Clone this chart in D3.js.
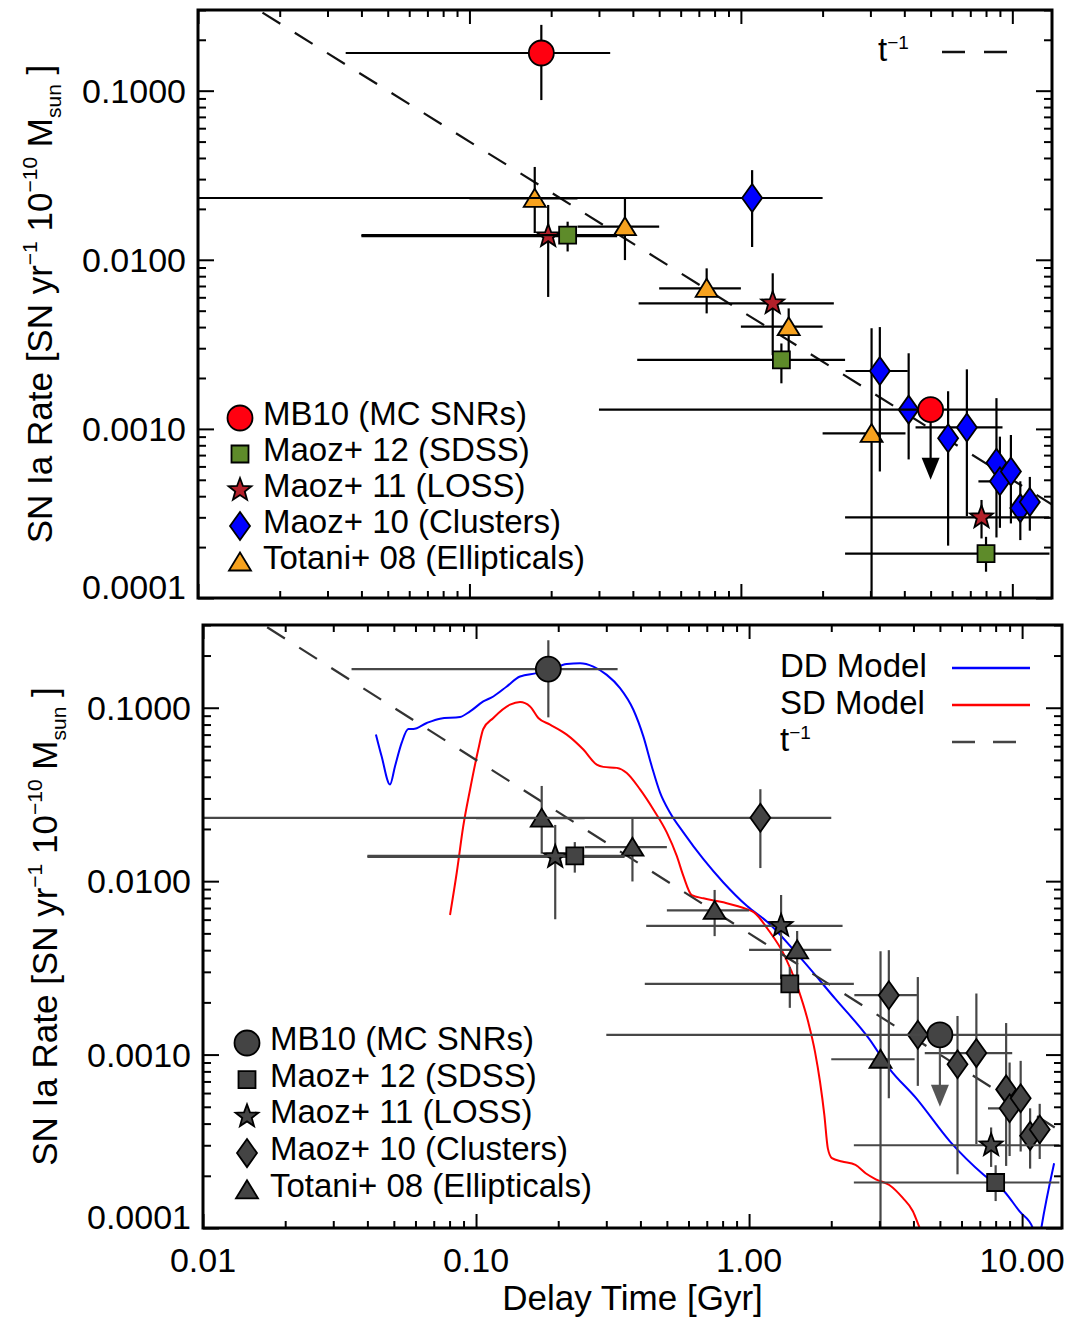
<!DOCTYPE html>
<html>
<head>
<meta charset="utf-8">
<script src="https://cdn.jsdelivr.net/npm/d3@7"></script>
<style>
body { margin: 0; background: #fff; }
text { font-family: "Liberation Sans", Arial, Helvetica, sans-serif; fill: #000; }
</style>
</head>
<body>
<svg id="chart" width="1075" height="1317"></svg>
<script>
// axis ranges (delay time in Gyr, rate in SN / yr / 1e10 Msun)
var xDomain = [0.01, 14];
var yDomain = [1e-4, 0.3];
var xTickValues = [0.01, 0.1, 1, 10];
var xTickLabels = ["0.01", "0.10", "1.00", "10.00"];
var yTickValues = [0.0001, 0.001, 0.01, 0.1];
var yTickLabels = ["0.0001", "0.0010", "0.0100", "0.1000"];

// observed rates: t, rate, time range, rate range (null = no bar)
var mb10 = [
  {t: 0.184, r: 0.167, tlo: 0.035, thi: 0.33, rlo: 0.088, rhi: 0.245},
  {t: 5.0, r: 0.0013, tlo: 0.30, thi: 20, rlo: null, rhi: null, limit: 0.0005}
];
var maoz12 = [
  {t: 0.23, r: 0.0140, tlo: 0.04, thi: 0.35, rlo: 0.0112, rhi: 0.0168},
  {t: 1.41, r: 0.00256, tlo: 0.415, thi: 2.42, rlo: 0.00186, rhi: 0.0032},
  {t: 8.0, r: 0.000183, tlo: 2.42, thi: 13.7, rlo: 0.000143, rhi: 0.00023}
];
var maoz11 = [
  {t: 0.195, r: 0.0138, tlo: 0.04, thi: 0.35, rlo: 0.00603, rhi: 0.0211},
  {t: 1.31, r: 0.00553, tlo: 0.42, thi: 2.2, rlo: 0.00273, rhi: 0.00832},
  {t: 7.7, r: 0.0003, tlo: 2.42, thi: 13.7, rlo: 0.000225, rhi: 0.00038}
];
var maoz10 = [
  {t: 1.10, r: 0.0232, tlo: 0.001, thi: 2.0, rlo: 0.0119, rhi: 0.0339},
  {t: 3.25, r: 0.0022, tlo: 2.43, thi: 4.12, rlo: 0.00056, rhi: 0.0040},
  {t: 4.15, r: 0.0013, tlo: null, thi: null, rlo: 0.00066, rhi: 0.0028},
  {t: 5.8, r: 0.00088, tlo: null, thi: null, rlo: 0.000204, rhi: 0.00167},
  {t: 6.8, r: 0.00102, tlo: 4.4, thi: 9.2, rlo: 0.000305, rhi: 0.00225},
  {t: 8.74, r: 0.00063, tlo: null, thi: null, rlo: 0.000228, rhi: 0.00152},
  {t: 9.0, r: 0.00049, tlo: 7.5, thi: 9.9, rlo: 0.00026, rhi: 0.0009},
  {t: 9.88, r: 0.00056, tlo: null, thi: null, rlo: 0.000276, rhi: 0.00092},
  {t: 10.7, r: 0.00034, tlo: null, thi: null, rlo: 0.00022, rhi: 0.00049},
  {t: 11.6, r: 0.00037, tlo: null, thi: null, rlo: 0.00025, rhi: 0.00052}
];
var totani08 = [
  {t: 0.174, r: 0.0231, tlo: 0.1, thi: 0.25, rlo: 0.0144, rhi: 0.0354},
  {t: 0.374, r: 0.0157, tlo: 0.25, thi: 0.5, rlo: 0.00996, rhi: 0.0231},
  {t: 0.748, r: 0.00678, tlo: 0.5, thi: 1.0, rlo: 0.00482, rhi: 0.0089},
  {t: 1.50, r: 0.00402, tlo: 1.0, thi: 2.0, rlo: 0.00267, rhi: 0.00516},
  {t: 3.03, r: 0.00094, tlo: 2.0, thi: 4.04, rlo: 0.00001, rhi: 0.00394}
];

// model delay time distributions [t, rate]
var ddModel = [
  [0.0430, 0.0700], [0.0451, 0.0525], [0.0484, 0.0361], [0.0505, 0.046], [0.0534, 0.0627],
  [0.0565, 0.0754], [0.0589, 0.0754], [0.0660, 0.0817], [0.0738, 0.0865], [0.0874, 0.0885],
  [0.0951, 0.0953], [0.1063, 0.1087], [0.1157, 0.1161], [0.1296, 0.1326], [0.1449, 0.1514],
  [0.1668, 0.1583], [0.1867, 0.1654], [0.2149, 0.179], [0.2404, 0.1807], [0.2690, 0.1727],
  [0.3012, 0.1547], [0.3369, 0.1298], [0.3769, 0.0974], [0.4100, 0.0684], [0.4401, 0.046],
  [0.4721, 0.0324], [0.5136, 0.0248], [0.5745, 0.0191], [0.6804, 0.01338], [0.805, 0.00983],
  [0.981, 0.00721], [1.170, 0.00579], [1.555, 0.00356], [2.067, 0.0021], [2.749, 0.001236],
  [3.263, 0.000831], [4.098, 0.000559], [5.448, 0.000315], [7.246, 0.000202], [8.592, 0.000163],
  [9.775, 0.000125], [10.95, 0.0001], [11.35, 0.00007], [11.76, 0.0001], [13.1, 0.000236]
];
var sdModel = [
  [0.0803, 0.00638], [0.0850, 0.01122], [0.0898, 0.0208], [0.0951, 0.0338], [0.1019, 0.0574],
  [0.1063, 0.0754], [0.1157, 0.0873], [0.1332, 0.1041], [0.1449, 0.1078], [0.1577, 0.1018],
  [0.1691, 0.0873], [0.1867, 0.0799], [0.2149, 0.0700], [0.2472, 0.0574], [0.2767, 0.0470],
  [0.2926, 0.0456], [0.3276, 0.0450], [0.3565, 0.0421], [0.3988, 0.0338], [0.4462, 0.0259],
  [0.4995, 0.0191], [0.5435, 0.01398], [0.5745, 0.01073], [0.6167, 0.00831], [0.6804, 0.00796],
  [0.805, 0.00755], [0.981, 0.0069], [1.043, 0.00661], [1.170, 0.0053], [1.349, 0.00372],
  [1.512, 0.0024], [1.647, 0.00154], [1.744, 0.001037], [1.819, 0.000697], [1.887, 0.000448],
  [1.943, 0.000288], [2.011, 0.000253], [2.189, 0.000242], [2.453, 0.000231], [2.672, 0.000207],
  [2.912, 0.000191], [3.263, 0.000177], [3.656, 0.000149], [3.981, 0.000125], [4.216, 0.0001],
  [4.5, 0.00008]
];
// t^-1 reference line end points
var tInverse = [[0.01, 0.5], [14, 0.000357]];

var legendNames = ["MB10 (MC SNRs)", "Maoz+ 12 (SDSS)", "Maoz+ 11 (LOSS)", "Maoz+ 10 (Clusters)", "Totani+ 08 (Ellipticals)"];

var series = [
  {key: "totani08", data: totani08, shape: "triangle", colour: "#f7a21e"},
  {key: "maoz10", data: maoz10, shape: "diamond", colour: "#0000ff"},
  {key: "maoz11", data: maoz11, shape: "star", colour: "#b3202a"},
  {key: "maoz12", data: maoz12, shape: "square", colour: "#5e8b2a"},
  {key: "mb10", data: mb10, shape: "circle", colour: "#ff0010"}
];
var legendOrder = ["mb10", "maoz12", "maoz11", "maoz10", "totani08"];

var panels = [
  {name: "top", left: 198, right: 1052, top: 10, bottom: 598, grey: false, xlabels: false,
   legend: {x: 240, y: 418, dy: 36}},
  {name: "bottom", left: 203, right: 1062, top: 625, bottom: 1228, grey: true, xlabels: true,
   legend: {x: 247, y: 1043, dy: 36.7}}
];

var svg = d3.select("#chart");
var defs = svg.append("defs");

function markerPath(shape) {
  if (shape === "circle") return d3.symbol(d3.symbolCircle, Math.PI * 12.5 * 12.5)();
  if (shape === "square") return "M-8.5,-8.5H8.5V8.5H-8.5Z";
  if (shape === "diamond") return "M0,-14L10,0L0,14L-10,0Z";
  if (shape === "triangle") return "M0,-9.5L11,8.5L-11,8.5Z";
  // five pointed star
  var pts = [];
  for (var k = 0; k < 10; k++) {
    var a = -Math.PI / 2 + k * Math.PI / 5;
    var rr = k % 2 === 0 ? 12 : 5;
    pts.push([rr * Math.cos(a), rr * Math.sin(a)]);
  }
  return "M" + pts.map(function(p) { return p[0].toFixed(2) + "," + p[1].toFixed(2); }).join("L") + "Z";
}

function drawPanel(p) {
  var x = d3.scaleLog().domain(xDomain).range([p.left, p.right]);
  var y = d3.scaleLog().domain(yDomain).range([p.bottom, p.top]);
  var barColour = p.grey ? "#474747" : "#000";
  var g = svg.append("g").attr("class", "panel-" + p.name);

  defs.append("clipPath").attr("id", "clip-" + p.name)
    .append("rect")
      .attr("x", p.left).attr("y", p.top)
      .attr("width", p.right - p.left).attr("height", p.bottom - p.top);

  var plot = g.append("g").attr("clip-path", "url(#clip-" + p.name + ")");

  var line = d3.line()
    .x(function(d) { return x(d[0]); })
    .y(function(d) { return y(d[1]); });

  if (p.grey) {
    plot.append("path").datum(ddModel)
      .attr("d", line.curve(d3.curveMonotoneX))
      .attr("fill", "none").attr("stroke", "#0000ff").attr("stroke-width", 2);
    plot.append("path").datum(sdModel)
      .attr("d", line.curve(d3.curveMonotoneX))
      .attr("fill", "none").attr("stroke", "#ff0000").attr("stroke-width", 2);
  }

  plot.append("path").datum(tInverse)
    .attr("d", line.curve(d3.curveLinear))
    .attr("fill", "none")
    .attr("stroke", p.grey ? "#333" : "#111")
    .attr("stroke-width", 2.2)
    .attr("stroke-dasharray", "21,17");

  series.forEach(function(s) {
    var sg = plot.append("g").attr("class", s.key);
    var fill = p.grey ? "#444" : s.colour;
    s.data.forEach(function(d) {
      if (d.tlo != null) {
        sg.append("line")
          .attr("x1", x(d.tlo)).attr("x2", x(d.thi))
          .attr("y1", y(d.r)).attr("y2", y(d.r))
          .attr("stroke", barColour).attr("stroke-width", 2.2);
      }
      if (d.rlo != null) {
        sg.append("line")
          .attr("x1", x(d.t)).attr("x2", x(d.t))
          .attr("y1", y(d.rlo)).attr("y2", y(d.rhi))
          .attr("stroke", barColour).attr("stroke-width", 2.2);
      }
      if (d.limit) {
        var ax = x(d.t), tip = y(d.limit);
        sg.append("line")
          .attr("x1", ax).attr("x2", ax)
          .attr("y1", y(d.r)).attr("y2", tip - 10)
          .attr("stroke", p.grey ? "#555" : "#000").attr("stroke-width", 2.2);
        sg.append("path")
          .attr("d", "M" + (ax - 9) + "," + (tip - 22) + "L" + (ax + 9) + "," + (tip - 22) + "L" + ax + "," + tip + "Z")
          .attr("fill", p.grey ? "#555" : "#000");
      }
    });
    sg.selectAll("path.mk").data(s.data).join("path")
      .attr("class", "mk")
      .attr("d", markerPath(s.shape))
      .attr("transform", function(d) { return "translate(" + x(d.t) + "," + y(d.r) + ")"; })
      .attr("fill", fill)
      .attr("stroke", "#000").attr("stroke-width", 1.8);
  });

  // axes: ticks point inwards on all four sides
  var xMinor = x.ticks().filter(function(v) { return xTickValues.indexOf(v) < 0; });
  var yMinor = y.ticks().filter(function(v) { return yTickValues.indexOf(v) < 0; });

  function addAxis(axis, tx, ty) {
    var a = g.append("g").attr("transform", "translate(" + tx + "," + ty + ")").call(axis);
    a.select(".domain").remove();
    a.selectAll("line").attr("stroke", "#000").attr("stroke-width", 2);
    a.selectAll("text").remove();
  }
  addAxis(d3.axisBottom(x).tickValues(xTickValues).tickSize(-14), 0, p.bottom);
  addAxis(d3.axisBottom(x).tickValues(xMinor).tickSize(-7), 0, p.bottom);
  addAxis(d3.axisTop(x).tickValues(xTickValues).tickSize(-14), 0, p.top);
  addAxis(d3.axisTop(x).tickValues(xMinor).tickSize(-7), 0, p.top);
  addAxis(d3.axisLeft(y).tickValues(yTickValues).tickSize(-16), p.left, 0);
  addAxis(d3.axisLeft(y).tickValues(yMinor).tickSize(-8), p.left, 0);
  addAxis(d3.axisRight(y).tickValues(yTickValues).tickSize(-16), p.right, 0);
  addAxis(d3.axisRight(y).tickValues(yMinor).tickSize(-8), p.right, 0);

  g.append("rect")
    .attr("x", p.left).attr("y", p.top)
    .attr("width", p.right - p.left).attr("height", p.bottom - p.top)
    .attr("fill", "none").attr("stroke", "#000").attr("stroke-width", 3);

  // y tick labels
  yTickValues.forEach(function(v, i) {
    g.append("text")
      .attr("x", p.left - 12)
      .attr("y", y(v) - (i === 0 ? 11 : 0))
      .attr("dy", "0.36em")
      .attr("text-anchor", "end")
      .style("font-size", "34px")
      .text(yTickLabels[i]);
  });

  if (p.xlabels) {
    xTickValues.forEach(function(v, i) {
      g.append("text")
        .attr("x", x(v)).attr("y", p.bottom + 44)
        .attr("text-anchor", "middle")
        .style("font-size", "34px")
        .text(xTickLabels[i]);
    });
    g.append("text")
      .attr("x", (p.left + p.right) / 2).attr("y", p.bottom + 82)
      .attr("text-anchor", "middle")
      .style("font-size", "35px")
      .text("Delay Time [Gyr]");
  }

  // y axis title
  var title = g.append("text")
    .attr("transform", "translate(" + (p.left - 146) + "," + ((p.top + p.bottom) / 2) + ") rotate(-90)")
    .attr("text-anchor", "middle")
    .style("font-size", "35px");
  title.append("tspan").text("SN Ia Rate [SN yr");
  title.append("tspan").attr("dy", -15).style("font-size", "21px").text("\u22121");
  title.append("tspan").attr("dy", 15).text(" 10");
  title.append("tspan").attr("dy", -15).style("font-size", "21px").text("\u221210");
  title.append("tspan").attr("dy", 15).text(" M");
  title.append("tspan").attr("dy", 9).style("font-size", "21px").text("sun");
  title.append("tspan").attr("dy", -9).text(" ]");

  // data legend
  legendOrder.forEach(function(key, i) {
    var s = series.filter(function(d) { return d.key === key; })[0];
    var ly = p.legend.y + i * p.legend.dy;
    g.append("path")
      .attr("d", markerPath(s.shape))
      .attr("transform", "translate(" + p.legend.x + "," + ly + ")")
      .attr("fill", p.grey ? "#444" : s.colour)
      .attr("stroke", "#000").attr("stroke-width", 1.8);
    g.append("text")
      .attr("x", p.legend.x + 23).attr("y", ly + 7)
      .style("font-size", "33px")
      .text(legendNames[i]);
  });

  // line legend (top right)
  var lineKeys = p.grey
    ? [{label: "DD Model", colour: "#0000ff", dash: null, y: 668},
       {label: "SD Model", colour: "#ff0000", dash: null, y: 705},
       {label: "t", colour: "#444", dash: "23,18", y: 742}]
    : [{label: "t", colour: "#111", dash: "23,19", y: 52}];
  var lx = p.grey ? 780 : 878;
  var l0 = p.grey ? 952 : 942;
  var l1 = p.grey ? 1030 : 1008;
  lineKeys.forEach(function(k) {
    var txt = g.append("text")
      .attr("x", lx).attr("y", k.y + 9)
      .style("font-size", "33px");
    txt.append("tspan").text(k.label);
    if (k.label === "t") {
      txt.append("tspan").attr("dy", -12).style("font-size", "19px").text("\u22121");
    }
    g.append("line")
      .attr("x1", l0).attr("x2", l1)
      .attr("y1", k.y).attr("y2", k.y)
      .attr("stroke", k.colour).attr("stroke-width", 2.5)
      .attr("stroke-dasharray", k.dash);
  });
}

panels.forEach(drawPanel);
</script>
</body>
</html>
